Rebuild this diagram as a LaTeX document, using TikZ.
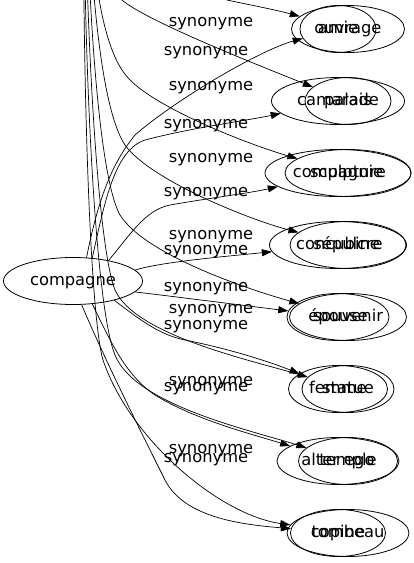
\documentclass[tikz,border=0pt]{standalone}
\usepackage{fontspec}
\setmainfont{DejaVu Sans}
\usetikzlibrary{shapes.geometric,arrows.meta}
\begin{document}
\begin{tikzpicture}[x=1pt,y=-1pt,font=\fontsize{16.3}{19}\selectfont]
\tikzset{
  ell/.style={draw, ellipse, line width=0.8pt, inner sep=0pt, minimum height=47pt, text height=11.5pt, text depth=3.5pt},
  lab/.style={inner sep=0pt, text height=11.5pt, text depth=3.5pt},
  syn/.style={line width=0.7pt, -{Triangle[length=10pt,width=7pt]}}
}
\useasboundingbox (0,0) rectangle (413,563);
\clip (0,0) rectangle (413,563);
% root node
\node[ell, minimum width=139pt] (compagne) at (73,281) {compagne};
\coordinate (rootX) at (85,-230);
% family A (x = 338)
\node[ell, minimum width=76pt]  (amie)      at (338,29)  {amie};
\node[ell, minimum width=133pt] (camarade)  at (338,101) {camarade};
\node[ell, minimum width=146pt] (compagnie) at (338,173) {compagnie};
\node[ell, minimum width=137pt] (concubine) at (338,245) {concubine};
\node[ell, minimum width=102pt] (epouse)    at (338,317) {épouse};
\node[ell, minimum width=99pt]  (femme)     at (338,389) {femme};
\node[ell, minimum width=122pt] (alter)     at (338,461) {alter ego};
\node[ell, minimum width=95pt]  (copine)    at (338,533) {copine};
% family B (x = 348)
\node[ell, minimum width=113pt] (ouvrage)   at (348,29)  {ouvrage};
\node[ell, minimum width=86pt]  (palais)    at (348,101) {palais};
\node[ell, minimum width=126pt] (sculpture) at (348,173) {sculpture};
\node[ell, minimum width=116pt] (sepulcre)  at (348,245) {sépulcre};
\node[ell, minimum width=117pt] (souvenir)  at (348,317) {souvenir};
\node[ell, minimum width=92pt]  (statue)    at (348,389) {statue};
\node[ell, minimum width=99pt]  (temple)    at (348,461) {temple};
\node[ell, minimum width=122pt] (tombeau)   at (348,533) {tombeau};
% labels, set X
\node[lab] (lx2) at (211,22)  {synonyme};
\node[lab] (lx3) at (211,86)  {synonyme};
\node[lab] (lx4) at (211,158) {synonyme};
\node[lab] (lx5) at (211,235) {synonyme};
\node[lab] (lx6) at (211,309) {synonyme};
\node[lab] (lx7) at (211,381) {synonyme};
\node[lab] (lx8) at (211,449) {synonyme};
% labels, set Y
\node[lab] (ly1) at (206,51)  {synonyme};
\node[lab] (ly2) at (206,124) {synonyme};
\node[lab] (ly3) at (206,192) {synonyme};
\node[lab] (ly4) at (206,250) {synonyme};
\node[lab] (ly5) at (206,287) {synonyme};
\node[lab] (ly6) at (206,325) {synonyme};
\node[lab] (ly7) at (206,387) {synonyme};
\node[lab] (ly8) at (206,458) {synonyme};
% edges, set X (from off-picture root)
\draw[syn] (rootX) .. controls (100,-110) and (170,-15) .. (227,0) .. controls (250,5) and (272,9) .. (ouvrage);
\draw[syn] (rootX) .. controls (88,-130) and (100,-20) .. (122,0) .. controls (145,20) and (250,62) .. (palais);
\draw[syn] (rootX) .. controls (88,-100) and (90,40) .. (130,80) .. controls (160,110) and (250,145) .. (sculpture);
\draw[syn] (rootX) .. controls (86,-80) and (95,100) .. (125,145) .. controls (150,180) and (250,220) .. (sepulcre);
\draw[syn] (rootX) .. controls (84,-60) and (95,170) .. (120,215) .. controls (145,255) and (250,290) .. (souvenir);
\draw[syn] (rootX) .. controls (82,-40) and (95,240) .. (115,290) .. controls (135,335) and (250,360) .. (statue);
\draw[syn] (rootX) .. controls (80,-20) and (92,300) .. (115,355) .. controls (135,405) and (250,430) .. (temple);
\draw[syn] (rootX) .. controls (80,0) and (88,310) .. (103,360) .. controls (130,440) and (220,515) .. (tombeau);
% edges, set Y (from compagne)
\draw[syn] (compagne.60) .. controls (100,190) and (115,160) .. (135,135) .. controls (175,100) and (260,50) .. (amie);
\draw[syn] (compagne.50) .. controls (105,200) and (115,150) .. (145,140) .. controls (190,128) and (250,120) .. (camarade);
\draw[syn] (compagne.30) .. controls (130,235) and (145,210) .. (170,205) .. controls (210,198) and (250,193) .. (compagnie);
\draw[syn] (compagne.10) .. controls (160,262) and (230,256) .. (concubine);
\draw[syn] (compagne.-10) .. controls (170,296) and (240,305) .. (epouse);
\draw[syn] (compagne.-25) .. controls (140,320) and (160,335) .. (185,340) .. controls (225,348) and (265,360) .. (femme);
\draw[syn] (compagne.-50) .. controls (110,340) and (125,375) .. (155,395) .. controls (195,420) and (255,435) .. (alter);
\draw[syn] (compagne.-70) .. controls (105,360) and (140,430) .. (165,480) .. controls (185,520) and (250,525) .. (copine);
\end{tikzpicture}
\end{document}
